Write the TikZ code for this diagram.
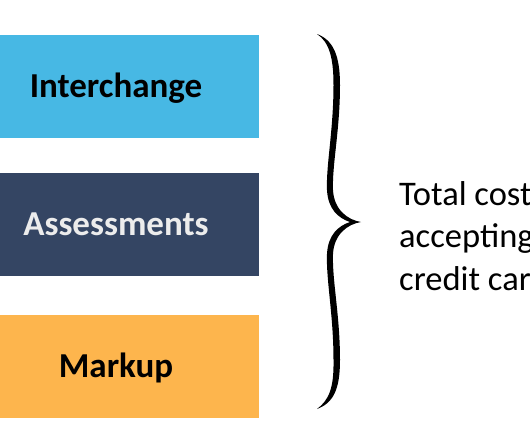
\documentclass[tikz,border=0pt]{standalone}
\usepackage{fontspec}
\setmainfont{Carlito}
\usepackage{tikz}
\usetikzlibrary{positioning}
\definecolor{feeblue}{RGB}{71, 184, 228}
\definecolor{feenavy}{RGB}{52, 69, 99}
\definecolor{feeorange}{RGB}{253, 181, 77}
\definecolor{feelight}{RGB}{236, 236, 236}

\begin{document}
\begin{tikzpicture}[
  x=1pt, y=-1pt,
  fee/.style={rectangle, minimum width=286pt, minimum height=103pt, inner sep=0pt,
    font=\fontsize{35}{40}\selectfont\bfseries, text height=22pt, text depth=0pt},
  note/.style={align=left, inner sep=0pt, font=\fontsize{34.5}{42.5}\selectfont}
]
\useasboundingbox (0,0) rectangle (530,442);

% Fee components
\node[fee, fill=feeblue] (inter) at (116, 86.5) {Interchange};
\node[fee, fill=feenavy, text=feelight] (assess) at (116, 224.5) {Assessments};
\node[fee, fill=feeorange] (markup) at (116, 366.5) {Markup};

% Curly brace
\fill[black] (317,34) .. controls (333,40) and (340,55) .. (340,85)
  .. controls (340,130) and (332,165) .. (333,190)
  .. controls (334,210) and (348,220) .. (361,222)
  .. controls (348,224) and (334,234) .. (333,254)
  .. controls (332,280) and (340,315) .. (340,360)
  .. controls (340,390) and (333,403) .. (317,409)
  .. controls (329,400) and (334,388) .. (333.5,360)
  .. controls (333.5,315) and (326,280) .. (327,254)
  .. controls (328,235) and (338,226) .. (350,222)
  .. controls (338,218) and (328,209) .. (327,190)
  .. controls (326,165) and (333.5,130) .. (333.5,85)
  .. controls (333.5,57) and (329,42) .. (317,34) -- cycle;

% Total (base = last line)
\node[note, anchor=base west] (total) at (399, 290) {Total cost of\\accepting\\credit cards};

\end{tikzpicture}
\end{document}
